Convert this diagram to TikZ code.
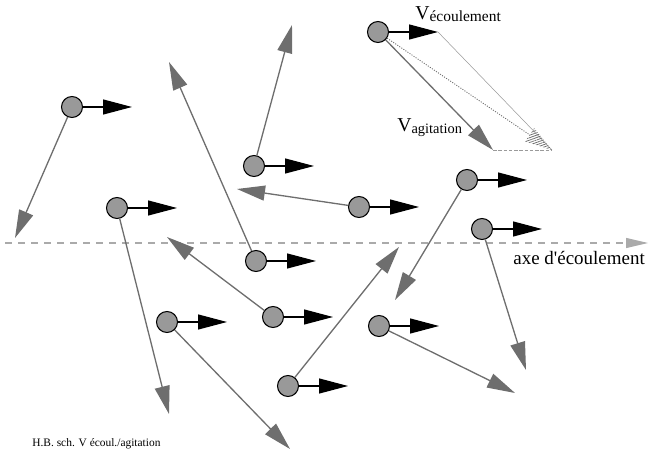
\documentclass[tikz,border=0pt]{standalone}
\usepackage{fontspec}
\setmainfont{Liberation Serif}
\usetikzlibrary{arrows.meta,calc,patterns.meta}

\definecolor{grainfill}{HTML}{999999}
\definecolor{agitgray}{HTML}{6E6E6E}
\definecolor{axegray}{HTML}{AAAAAA}

\begin{document}
\begin{tikzpicture}[x=0.02cm,y=-0.02cm,
 grain/.style={draw,circle,minimum size=0.42cm,inner sep=0pt,fill=grainfill,line width=0.6pt},
 vflow/.style={-{Triangle[length=0.58cm,width=0.3cm]},line width=0.7pt},
 vagit/.style={-{Triangle[length=0.56cm,width=0.3cm]},agitgray,line width=0.75pt},
 lbl/.style={inner sep=0pt,anchor=base west}]
\useasboundingbox (0,0) rectangle (649,452);
% axe d'ecoulement
\coordinate (ax0) at (5,243); \coordinate (ax1) at (648,243);
\draw[axegray,line width=0.6pt,dash pattern=on 4pt off 3.4pt,-{Triangle[length=0.44cm,width=0.2cm]}] (ax0) -- (ax1);
\node[lbl,font=\fontsize{10.8}{12}\selectfont] (axe) at (513,265) {axe d\textquotesingle écoulement};
% grains: n / x / y / pointe de V agitation
\foreach \i/\x/\y/\u/\v in {1/378/32/493/150, 2/72/107/15/238, 3/254/166/292/25,
  4/359/207/237/189, 5/117/208/169/414, 6/256/261/169/62, 7/467/180/395/300,
  8/482/229/526/370, 9/167/322/290/449, 10/273/317/167/237, 11/379/326/515/393,
  12/288/386/399/247}{
 \node[grain] (p\i) at (\x,\y) {};
 \coordinate (f\i) at (\x+60,\y);
 \coordinate (a\i) at (\u,\v);
 \draw[vagit] (p\i) -- (a\i);
 \draw[vflow] (p\i) -- (f\i);
}
% composition des vitesses
\coordinate (r1) at (552,150);
\draw[agitgray!70,line width=0.3pt] (f1) -- (r1);
\draw[agitgray!70,line width=0.3pt,dash pattern=on 2pt off 1pt] (a1) -- (r1);
\path ($(r1)!0.54cm!(p1)$) coordinate (rb);
\draw[agitgray,line width=0.5pt,dash pattern=on 0.6pt off 0.8pt] (p1) -- (rb);
\fill[pattern={Lines[angle=20,distance=1.3pt,line width=0.45pt]},pattern color=agitgray] (r1) -- ($(rb)!0.16cm!90:(r1)$) -- ($(rb)!0.16cm!-90:(r1)$) -- cycle;
\node[lbl,font=\fontsize{11.2}{13}\selectfont] (vecl) at (415,20) {V\raisebox{-0.2ex}{\fontsize{8.8}{10}\selectfont écoulement}};
\node[lbl,font=\fontsize{11.2}{13}\selectfont] (vagt) at (397,132) {V\raisebox{-0.2ex}{\fontsize{8.2}{10}\selectfont agitation}};
\node[lbl,font=\fontsize{6.5}{8}\selectfont] (cred) at (32,446) {H.B. sch. V écoul./agitation};
\end{tikzpicture}
\end{document}
